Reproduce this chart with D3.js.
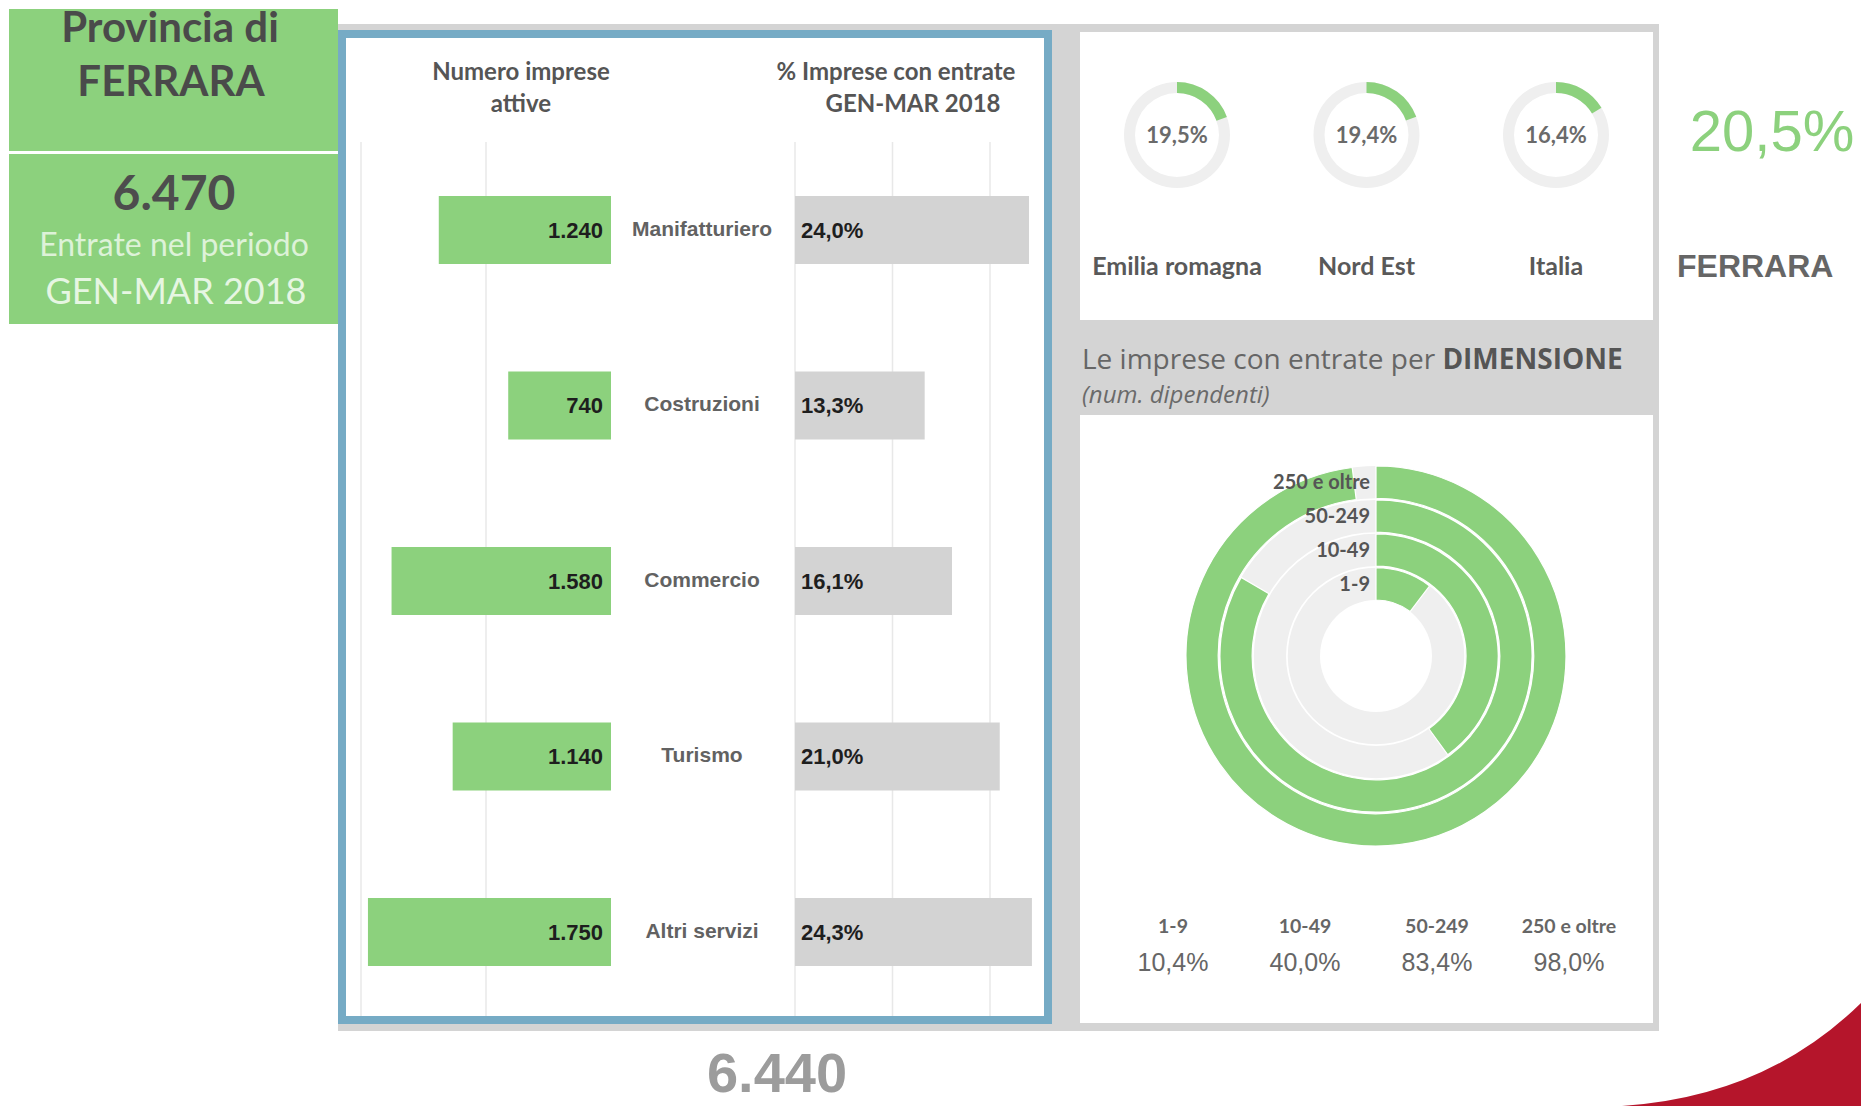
<!DOCTYPE html>
<html>
<head>
<meta charset="utf-8">
<script src="https://cdn.jsdelivr.net/npm/d3@7"></script>
<style>
  html, body { margin: 0; padding: 0; background: #fff; }
  svg { display: block; }
</style>
</head>
<body>
<svg id="dash" width="1861" height="1106"></svg>
<script>
// ---- data ----
const categories      = ["Manifatturiero", "Costruzioni", "Commercio", "Turismo", "Altri servizi"];
const impreseAttive   = [1240, 740, 1580, 1140, 1750];
const quotaEntrate    = [24.0, 13.3, 16.1, 21.0, 24.3];
const gridImprese     = [900, 1800];
const gridQuota       = [0, 10, 20];

const areeConfronto   = ["Emilia romagna", "Nord Est", "Italia"];
const quotaAree       = [19.5, 19.4, 16.4];

const classiDimensione = ["1-9", "10-49", "50-249", "250 e oltre"];
const quotaDimensione  = [10.4, 40.0, 83.4, 98.0];

const provincia       = "FERRARA";
const quotaProvincia  = 20.5;
const entratePeriodo  = 6470;
const totaleImprese   = 6440;

// ---- formatting (Italian conventions) ----
const it = d3.formatLocale({ decimal: ",", thousands: ".", grouping: [3], currency: ["€", ""] });
const fmtInt = it.format(",d");
const fmtPct = v => it.format(".1f")(v) + "%";

// ---- palette & type ----
const GREEN = "#8CD17D", TRACK = "#EFEFEF", BAR_GRAY = "#D3D3D3",
      FRAME = "#D4D4D4", BLUE = "#76ABC5", GRID = "#E8E8E8";
const ARIAL = "'Liberation Sans', Arial, sans-serif";
const UI = "Lato, 'Open Sans', sans-serif";
const OPEN = "'Open Sans', 'Noto Sans', sans-serif";

const svg = d3.select("#dash");

function label(g, x, y, txt, opts = {}) {
  return g.append("text")
    .attr("x", x).attr("y", y)
    .attr("text-anchor", opts.anchor || "middle")
    .attr("font-family", opts.font || UI)
    .attr("font-size", opts.size || 20)
    .attr("font-weight", opts.weight || "normal")
    .attr("font-style", opts.style || "normal")
    .attr("fill", opts.fill || "#555")
    .text(txt);
}

// ---- corner swoosh ----
svg.append("path")
  .attr("d", "M1622,1106 Q1765,1097 1861,1003 L1861,1106 Z")
  .attr("fill", "#B5152B");

// ---- province header block ----
const head = svg.append("g");
head.append("rect").attr("x", 9).attr("y", 9).attr("width", 329).attr("height", 142).attr("fill", GREEN);
head.append("rect").attr("x", 9).attr("y", 154).attr("width", 329).attr("height", 170).attr("fill", GREEN);
label(head, 170, 42, "Provincia di", { size: 42, weight: "bold", fill: "#4A4A4A" });
label(head, 171, 96, provincia, { size: 42, weight: "bold", fill: "#4A4A4A" });
label(head, 174, 210, fmtInt(entratePeriodo), { size: 48, weight: "bold", fill: "#4D4D4D" });
label(head, 174, 256, "Entrate nel periodo", { size: 32, fill: "#DDF2D8" });
label(head, 176, 304, "GEN-MAR 2018", { size: 36, fill: "#E6F6E2" });

// ---- dashboard frame ----
svg.append("rect").attr("x", 338).attr("y", 24).attr("width", 1321).attr("height", 1007).attr("fill", FRAME);
svg.append("rect").attr("x", 342).attr("y", 34).attr("width", 706).attr("height", 986)
  .attr("fill", "#fff").attr("stroke", BLUE).attr("stroke-width", 8);
svg.append("rect").attr("x", 1080).attr("y", 32).attr("width", 573).attr("height", 288).attr("fill", "#fff");
svg.append("rect").attr("x", 1080).attr("y", 415).attr("width", 573).attr("height", 608).attr("fill", "#fff");

// ---- sector bars ----
const bars = svg.append("g");
const yPos = d3.scalePoint().domain(categories).range([230, 932]);
const barH = 68;
const xLeft = d3.scaleLinear().domain([0, 1800]).range([611, 361]);
const xRight = d3.scaleLinear().domain([0, 20]).range([795, 990]);
const gridTop = 142, gridBottom = 1016;

bars.append("g").selectAll("line").data(gridImprese).join("line")
  .attr("x1", d => xLeft(d)).attr("x2", d => xLeft(d))
  .attr("y1", gridTop).attr("y2", gridBottom)
  .attr("stroke", GRID).attr("stroke-width", 1.5);
bars.append("g").selectAll("line").data(gridQuota).join("line")
  .attr("x1", d => xRight(d)).attr("x2", d => xRight(d))
  .attr("y1", gridTop).attr("y2", gridBottom)
  .attr("stroke", GRID).attr("stroke-width", 1.5);

label(bars, 521, 80, "Numero imprese", { size: 24, weight: "bold", fill: "#555" });
label(bars, 521, 112, "attive", { size: 24, weight: "bold", fill: "#555" });
label(bars, 896, 80, "% Imprese con entrate", { size: 24, weight: "bold", fill: "#555" });
label(bars, 913, 112, "GEN-MAR 2018", { size: 24, weight: "bold", fill: "#555" });

const rows = bars.append("g").selectAll("g").data(categories).join("g");
rows.append("rect")
  .attr("x", (d, i) => xLeft(impreseAttive[i]))
  .attr("y", d => yPos(d) - barH / 2)
  .attr("width", (d, i) => xLeft(0) - xLeft(impreseAttive[i]))
  .attr("height", barH)
  .attr("fill", GREEN);
rows.append("rect")
  .attr("x", xRight(0))
  .attr("y", d => yPos(d) - barH / 2)
  .attr("width", (d, i) => xRight(quotaEntrate[i]) - xRight(0))
  .attr("height", barH)
  .attr("fill", BAR_GRAY);
rows.append("text")
  .attr("x", xLeft(0) - 8).attr("y", d => yPos(d))
  .attr("dy", "0.36em").attr("text-anchor", "end")
  .attr("font-family", ARIAL).attr("font-size", 22).attr("font-weight", "bold")
  .attr("fill", "#1E1E1E")
  .text((d, i) => fmtInt(impreseAttive[i]));
rows.append("text")
  .attr("x", xRight(0) + 6).attr("y", d => yPos(d))
  .attr("dy", "0.36em").attr("text-anchor", "start")
  .attr("font-family", ARIAL).attr("font-size", 22).attr("font-weight", "bold")
  .attr("fill", "#1E1E1E")
  .text((d, i) => fmtPct(quotaEntrate[i]));
rows.append("text")
  .attr("x", 702).attr("y", d => yPos(d) - 2)
  .attr("dy", "0.36em").attr("text-anchor", "middle")
  .attr("font-family", ARIAL).attr("font-size", 21).attr("font-weight", "bold")
  .attr("fill", "#626262")
  .text(d => d);

label(svg, 777, 1092, fmtInt(totaleImprese), { font: ARIAL, size: 56, weight: "bold", fill: "#9C9C9C" });

// ---- comparison donuts ----
const tau = 2 * Math.PI;
const pctAngle = d3.scaleLinear().domain([0, 100]).range([0, tau]);
const xArea = d3.scalePoint().domain(areeConfronto).range([1177, 1556]);
const donutArc = d3.arc().innerRadius(42).outerRadius(53);
const donuts = svg.append("g").selectAll("g").data(areeConfronto).join("g")
  .attr("transform", d => `translate(${xArea(d)},135)`);
donuts.append("path").attr("d", donutArc({ startAngle: 0, endAngle: tau })).attr("fill", TRACK);
donuts.append("path").attr("d", (d, i) => donutArc({ startAngle: 0, endAngle: pctAngle(quotaAree[i]) })).attr("fill", GREEN);
donuts.append("text").attr("y", 0).attr("dy", "0.36em").attr("text-anchor", "middle")
  .attr("font-family", UI).attr("font-size", 22).attr("font-weight", "bold").attr("fill", "#6A6A6A")
  .text((d, i) => fmtPct(quotaAree[i]));
donuts.append("text").attr("y", 140).attr("text-anchor", "middle")
  .attr("font-family", UI).attr("font-size", 25).attr("font-weight", "bold").attr("fill", "#595959")
  .text(d => d);

label(svg, 1772, 151, fmtPct(quotaProvincia), { font: ARIAL, size: 58, fill: GREEN });
label(svg, 1677, 277, provincia, { font: ARIAL, size: 32, weight: "bold", fill: "#666", anchor: "start" });

// ---- size-class radial bars ----
const titleG = svg.append("g");
const t = titleG.append("text").attr("x", 1082).attr("y", 369)
  .attr("font-family", OPEN).attr("font-size", 28).attr("fill", "#666");
t.append("tspan").text("Le imprese con entrate per ");
t.append("tspan").attr("font-weight", "bold").attr("fill", "#555").text("DIMENSIONE");
label(titleG, 1082, 403, "(num. dipendenti)", { font: OPEN, size: 24, style: "italic", fill: "#6A6A6A", anchor: "start" });

const cx = 1376, cy = 656;
const rBand = d3.scaleBand().domain(classiDimensione).range([56, 190]).paddingInner(0.05);
const ringArc = d3.arc();
const radial = svg.append("g").attr("transform", `translate(${cx},${cy})`);
const rings = radial.append("g").selectAll("g").data(classiDimensione).join("g");
rings.append("path")
  .attr("d", d => ringArc({ innerRadius: rBand(d), outerRadius: rBand(d) + rBand.bandwidth(), startAngle: 0, endAngle: tau }))
  .attr("fill", TRACK);
rings.append("path")
  .attr("d", (d, i) => ringArc({ innerRadius: rBand(d), outerRadius: rBand(d) + rBand.bandwidth(), startAngle: 0, endAngle: pctAngle(quotaDimensione[i]) }))
  .attr("fill", GREEN).attr("stroke", "#fff").attr("stroke-width", 1.2);
// ring names sit on top of every ring
radial.append("g").selectAll("text").data(classiDimensione).join("text")
  .attr("x", -6).attr("y", d => -(rBand(d) + rBand.bandwidth() / 2))
  .attr("dy", "0.36em").attr("text-anchor", "end")
  .attr("font-family", UI).attr("font-size", 20).attr("font-weight", "bold").attr("fill", "#555")
  .text(d => d);

const xClass = d3.scalePoint().domain(classiDimensione).range([1173, 1569]);
const legend = svg.append("g").selectAll("g").data(classiDimensione).join("g")
  .attr("transform", d => `translate(${xClass(d)},0)`);
legend.append("text").attr("y", 933).attr("text-anchor", "middle")
  .attr("font-family", UI).attr("font-size", 19.5).attr("font-weight", "bold").attr("fill", "#666")
  .text(d => d);
legend.append("text").attr("y", 971).attr("text-anchor", "middle")
  .attr("font-family", ARIAL).attr("font-size", 25).attr("fill", "#666")
  .text((d, i) => fmtPct(quotaDimensione[i]));
</script>
</body>
</html>
